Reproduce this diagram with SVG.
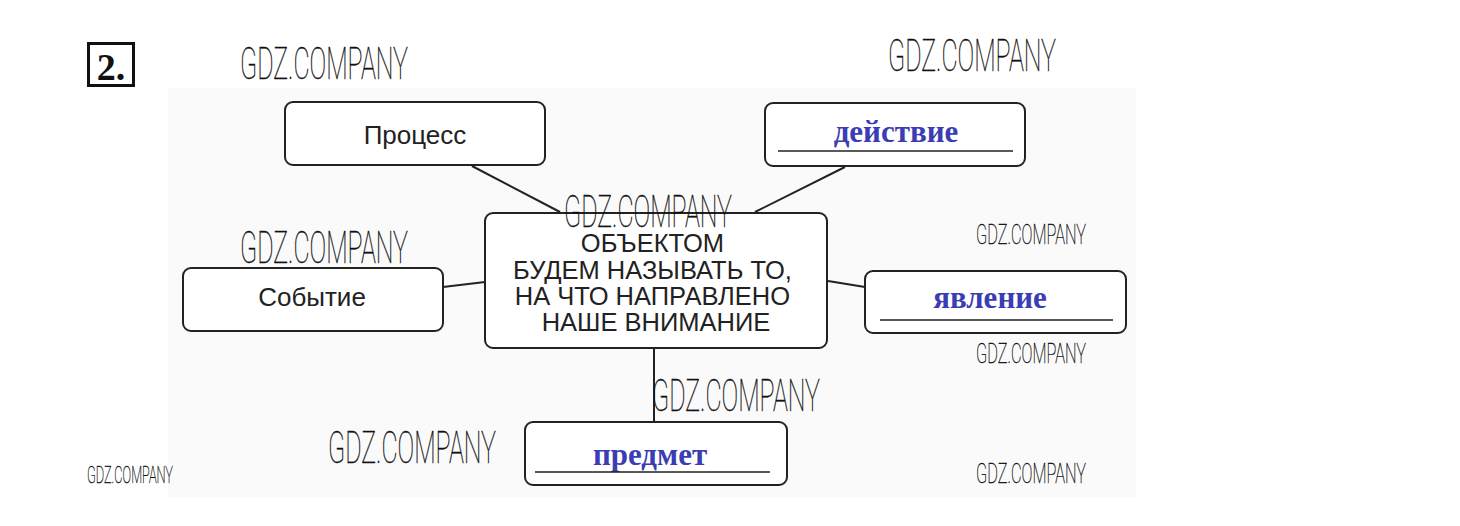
<svg xmlns="http://www.w3.org/2000/svg" width="1460" height="526" viewBox="0 0 1460 526">
  <style>
    .box { fill: #ffffff; stroke: #222; stroke-width: 2; }
    .conn { stroke: #222; stroke-width: 2; fill: none; }
    .lbl { font-family: "Liberation Sans", Arial, sans-serif; fill: #222; text-anchor: middle; }
    .ans { font-family: "Liberation Serif", "Times New Roman", serif; font-weight: bold; fill: #3a3db4; text-anchor: middle; }
    .uline { stroke: #222; stroke-width: 1.5; }
    .wm { font-family: Roboto, "DejaVu Sans", sans-serif; font-weight: 100; fill: #111; stroke: #111; stroke-width: 0.4; }
  </style>
  <rect width="1460" height="526" fill="#ffffff"/>
  <rect x="168" y="88" width="968" height="409" fill="#fafafa"/>

  <g id="task-number">
    <rect x="88.5" y="43.5" width="45" height="42" fill="#fff" stroke="#111" stroke-width="3"/>
    <text x="111" y="80" font-family="Liberation Serif, serif" font-weight="bold" font-size="38" text-anchor="middle" fill="#111">2.</text>
  </g>

  <g id="connectors">
    <line class="conn" x1="472" y1="166" x2="560" y2="212"/>
    <line class="conn" x1="845" y1="167" x2="755" y2="212"/>
    <line class="conn" x1="443" y1="287" x2="485" y2="282"/>
    <line class="conn" x1="828" y1="281" x2="865" y2="287"/>
    <line class="conn" x1="654" y1="349" x2="654" y2="422"/>
  </g>

  <g id="node-process">
    <rect class="box" x="285" y="102" width="260" height="63" rx="8"/>
    <text class="lbl" x="415" y="144" font-size="26">Процесс</text>
  </g>

  <g id="node-action">
    <rect class="box" x="765" y="103" width="260" height="63" rx="8"/>
    <text class="ans" x="896" y="142" font-size="31">действие</text>
    <line class="uline" x1="778" y1="151" x2="1013" y2="151"/>
  </g>

  <g id="node-event">
    <rect class="box" x="183" y="268" width="260" height="63" rx="8"/>
    <text class="lbl" x="312" y="306" font-size="26">Событие</text>
  </g>

  <g id="node-center">
    <rect class="box" x="485" y="213" width="342" height="135" rx="8"/>
    <text class="lbl" font-size="25.5">
      <tspan x="656" y="252">ОБЪЕКТОМ</tspan>
      <tspan x="656" y="279">БУДЕМ НАЗЫВАТЬ ТО,</tspan>
      <tspan x="656" y="305">НА ЧТО НАПРАВЛЕНО</tspan>
      <tspan x="656" y="331">НАШЕ ВНИМАНИЕ</tspan>
    </text>
  </g>

  <g id="node-phenomenon">
    <rect class="box" x="865" y="271" width="261" height="62" rx="8"/>
    <text class="ans" x="990" y="308" font-size="31">явление</text>
    <line class="uline" x1="880" y1="320" x2="1113" y2="320"/>
  </g>

  <g id="node-object">
    <rect class="box" x="525" y="422" width="262" height="63" rx="8"/>
    <text class="ans" x="650" y="465" font-size="31">предмет</text>
    <line class="uline" x1="535" y1="472" x2="770" y2="472"/>
  </g>

  <g id="watermarks">
    <text class="wm" x="240" y="79" font-size="44" textLength="168" lengthAdjust="spacingAndGlyphs">GDZ.COMPANY</text>
    <text class="wm" x="888" y="71" font-size="44" textLength="168" lengthAdjust="spacingAndGlyphs">GDZ.COMPANY</text>
    <text class="wm" x="564" y="227" font-size="44" textLength="168" lengthAdjust="spacingAndGlyphs">GDZ.COMPANY</text>
    <text class="wm" x="240" y="263" font-size="44" textLength="168" lengthAdjust="spacingAndGlyphs">GDZ.COMPANY</text>
    <text class="wm" x="652" y="411" font-size="44" textLength="168" lengthAdjust="spacingAndGlyphs">GDZ.COMPANY</text>
    <text class="wm" x="328" y="463" font-size="44" textLength="168" lengthAdjust="spacingAndGlyphs">GDZ.COMPANY</text>
    <text class="wm" x="976" y="244" font-size="28" textLength="110" lengthAdjust="spacingAndGlyphs">GDZ.COMPANY</text>
    <text class="wm" x="976" y="363" font-size="28" textLength="110" lengthAdjust="spacingAndGlyphs">GDZ.COMPANY</text>
    <text class="wm" x="976" y="483" font-size="28" textLength="110" lengthAdjust="spacingAndGlyphs">GDZ.COMPANY</text>
    <text class="wm" x="87" y="483" font-size="24" textLength="86" lengthAdjust="spacingAndGlyphs">GDZ.COMPANY</text>
  </g>
</svg>
